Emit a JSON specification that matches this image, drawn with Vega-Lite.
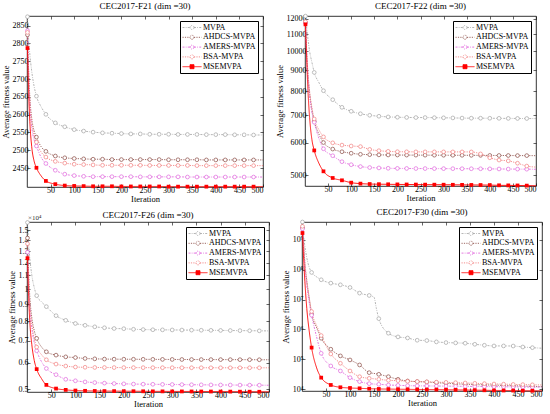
{
  "$schema": "https://vega.github.io/schema/vega-lite/v6.json",
  "padding": {"left": 0, "top": 1, "right": 6, "bottom": 0},
  "datasets": {
    "f21": [
      {"iteration": 1, "MVPA": 2875, "AHDCS-MVPA": 2824, "AMERS-MVPA": 2836, "BSA-MVPA": 2831, "MSEMVPA": 2787},
      {"iteration": 3, "MVPA": 2820, "AHDCS-MVPA": 2740, "AMERS-MVPA": 2730, "BSA-MVPA": 2735, "MSEMVPA": 2680},
      {"iteration": 6, "MVPA": 2770, "AHDCS-MVPA": 2650, "AMERS-MVPA": 2630, "BSA-MVPA": 2640, "MSEMVPA": 2580},
      {"iteration": 10, "MVPA": 2722, "AHDCS-MVPA": 2590, "AMERS-MVPA": 2565, "BSA-MVPA": 2578, "MSEMVPA": 2510},
      {"iteration": 15, "MVPA": 2680, "AHDCS-MVPA": 2555, "AMERS-MVPA": 2530, "BSA-MVPA": 2543, "MSEMVPA": 2470},
      {"iteration": 20, "MVPA": 2652, "AHDCS-MVPA": 2537, "AMERS-MVPA": 2512, "BSA-MVPA": 2523, "MSEMVPA": 2451},
      {"iteration": 30, "MVPA": 2622, "AHDCS-MVPA": 2510, "AMERS-MVPA": 2480, "BSA-MVPA": 2495, "MSEMVPA": 2428},
      {"iteration": 40, "MVPA": 2601, "AHDCS-MVPA": 2497, "AMERS-MVPA": 2463, "BSA-MVPA": 2481, "MSEMVPA": 2414},
      {"iteration": 60, "MVPA": 2577, "AHDCS-MVPA": 2484, "AMERS-MVPA": 2444, "BSA-MVPA": 2469, "MSEMVPA": 2405},
      {"iteration": 80, "MVPA": 2566, "AHDCS-MVPA": 2479, "AMERS-MVPA": 2433, "BSA-MVPA": 2464, "MSEMVPA": 2401},
      {"iteration": 100, "MVPA": 2558, "AHDCS-MVPA": 2477, "AMERS-MVPA": 2429, "BSA-MVPA": 2461, "MSEMVPA": 2400},
      {"iteration": 120, "MVPA": 2554, "AHDCS-MVPA": 2476, "AMERS-MVPA": 2427, "BSA-MVPA": 2460, "MSEMVPA": 2399.5},
      {"iteration": 140, "MVPA": 2551, "AHDCS-MVPA": 2475, "AMERS-MVPA": 2426, "BSA-MVPA": 2459, "MSEMVPA": 2399},
      {"iteration": 160, "MVPA": 2549, "AHDCS-MVPA": 2475, "AMERS-MVPA": 2426, "BSA-MVPA": 2458, "MSEMVPA": 2399},
      {"iteration": 180, "MVPA": 2548, "AHDCS-MVPA": 2474, "AMERS-MVPA": 2426, "BSA-MVPA": 2458, "MSEMVPA": 2399},
      {"iteration": 200, "MVPA": 2547, "AHDCS-MVPA": 2474, "AMERS-MVPA": 2426, "BSA-MVPA": 2458, "MSEMVPA": 2398.5},
      {"iteration": 220, "MVPA": 2546, "AHDCS-MVPA": 2474, "AMERS-MVPA": 2426, "BSA-MVPA": 2458, "MSEMVPA": 2398.5},
      {"iteration": 240, "MVPA": 2546, "AHDCS-MVPA": 2474, "AMERS-MVPA": 2425.5, "BSA-MVPA": 2458, "MSEMVPA": 2398.5},
      {"iteration": 260, "MVPA": 2545, "AHDCS-MVPA": 2474, "AMERS-MVPA": 2425.5, "BSA-MVPA": 2457.5, "MSEMVPA": 2398.5},
      {"iteration": 280, "MVPA": 2545, "AHDCS-MVPA": 2474, "AMERS-MVPA": 2425.5, "BSA-MVPA": 2457.5, "MSEMVPA": 2398.5},
      {"iteration": 300, "MVPA": 2545, "AHDCS-MVPA": 2473.5, "AMERS-MVPA": 2425.5, "BSA-MVPA": 2457.5, "MSEMVPA": 2398},
      {"iteration": 320, "MVPA": 2544.5, "AHDCS-MVPA": 2473.5, "AMERS-MVPA": 2425.5, "BSA-MVPA": 2457.5, "MSEMVPA": 2398},
      {"iteration": 340, "MVPA": 2544.5, "AHDCS-MVPA": 2473.5, "AMERS-MVPA": 2425, "BSA-MVPA": 2457.5, "MSEMVPA": 2398},
      {"iteration": 360, "MVPA": 2544.5, "AHDCS-MVPA": 2473.5, "AMERS-MVPA": 2425, "BSA-MVPA": 2457, "MSEMVPA": 2398},
      {"iteration": 380, "MVPA": 2544, "AHDCS-MVPA": 2473, "AMERS-MVPA": 2425, "BSA-MVPA": 2457, "MSEMVPA": 2398},
      {"iteration": 400, "MVPA": 2544, "AHDCS-MVPA": 2473, "AMERS-MVPA": 2425, "BSA-MVPA": 2457, "MSEMVPA": 2398},
      {"iteration": 420, "MVPA": 2544, "AHDCS-MVPA": 2473, "AMERS-MVPA": 2425, "BSA-MVPA": 2457, "MSEMVPA": 2398},
      {"iteration": 440, "MVPA": 2543.5, "AHDCS-MVPA": 2473, "AMERS-MVPA": 2425, "BSA-MVPA": 2457, "MSEMVPA": 2398},
      {"iteration": 460, "MVPA": 2543.5, "AHDCS-MVPA": 2473, "AMERS-MVPA": 2425, "BSA-MVPA": 2457, "MSEMVPA": 2398},
      {"iteration": 480, "MVPA": 2543, "AHDCS-MVPA": 2473, "AMERS-MVPA": 2425, "BSA-MVPA": 2457, "MSEMVPA": 2398},
      {"iteration": 500, "MVPA": 2543, "AHDCS-MVPA": 2473, "AMERS-MVPA": 2425, "BSA-MVPA": 2457, "MSEMVPA": 2398}
    ],
    "f22": [
      {"iteration": 1, "MVPA": 12170, "AHDCS-MVPA": 11750, "AMERS-MVPA": 11700, "BSA-MVPA": 11800, "MSEMVPA": 11625},
      {"iteration": 3, "MVPA": 11600, "AHDCS-MVPA": 10300, "AMERS-MVPA": 10200, "BSA-MVPA": 10400, "MSEMVPA": 10000},
      {"iteration": 6, "MVPA": 10800, "AHDCS-MVPA": 8900, "AMERS-MVPA": 8800, "BSA-MVPA": 9000, "MSEMVPA": 8200},
      {"iteration": 10, "MVPA": 10000, "AHDCS-MVPA": 7900, "AMERS-MVPA": 7800, "BSA-MVPA": 8000, "MSEMVPA": 6900},
      {"iteration": 15, "MVPA": 9400, "AHDCS-MVPA": 7200, "AMERS-MVPA": 7100, "BSA-MVPA": 7300, "MSEMVPA": 6100},
      {"iteration": 20, "MVPA": 8885, "AHDCS-MVPA": 6760, "AMERS-MVPA": 6726, "BSA-MVPA": 6850, "MSEMVPA": 5746},
      {"iteration": 30, "MVPA": 8400, "AHDCS-MVPA": 6300, "AMERS-MVPA": 6150, "BSA-MVPA": 6450, "MSEMVPA": 5350},
      {"iteration": 40, "MVPA": 8022, "AHDCS-MVPA": 6005, "AMERS-MVPA": 5799, "BSA-MVPA": 6198, "MSEMVPA": 5113},
      {"iteration": 60, "MVPA": 7630, "AHDCS-MVPA": 5790, "AMERS-MVPA": 5578, "BSA-MVPA": 5995, "MSEMVPA": 4926},
      {"iteration": 80, "MVPA": 7311, "AHDCS-MVPA": 5704, "AMERS-MVPA": 5395, "BSA-MVPA": 5920, "MSEMVPA": 4862},
      {"iteration": 100, "MVPA": 7151, "AHDCS-MVPA": 5656, "AMERS-MVPA": 5305, "BSA-MVPA": 5890, "MSEMVPA": 4799},
      {"iteration": 120, "MVPA": 7053, "AHDCS-MVPA": 5623, "AMERS-MVPA": 5250, "BSA-MVPA": 5870, "MSEMVPA": 4773},
      {"iteration": 140, "MVPA": 6993, "AHDCS-MVPA": 5612, "AMERS-MVPA": 5222, "BSA-MVPA": 5779, "MSEMVPA": 4762},
      {"iteration": 160, "MVPA": 6955, "AHDCS-MVPA": 5605, "AMERS-MVPA": 5210, "BSA-MVPA": 5737, "MSEMVPA": 4758},
      {"iteration": 180, "MVPA": 6930, "AHDCS-MVPA": 5602, "AMERS-MVPA": 5200, "BSA-MVPA": 5716, "MSEMVPA": 4755},
      {"iteration": 200, "MVPA": 6917, "AHDCS-MVPA": 5600, "AMERS-MVPA": 5197, "BSA-MVPA": 5705, "MSEMVPA": 4752},
      {"iteration": 220, "MVPA": 6910, "AHDCS-MVPA": 5598, "AMERS-MVPA": 5195, "BSA-MVPA": 5702, "MSEMVPA": 4750},
      {"iteration": 240, "MVPA": 6905, "AHDCS-MVPA": 5597, "AMERS-MVPA": 5193, "BSA-MVPA": 5700, "MSEMVPA": 4748},
      {"iteration": 260, "MVPA": 6905, "AHDCS-MVPA": 5596, "AMERS-MVPA": 5192, "BSA-MVPA": 5700, "MSEMVPA": 4746},
      {"iteration": 280, "MVPA": 6900, "AHDCS-MVPA": 5595, "AMERS-MVPA": 5191, "BSA-MVPA": 5700, "MSEMVPA": 4745},
      {"iteration": 300, "MVPA": 6895, "AHDCS-MVPA": 5594, "AMERS-MVPA": 5190, "BSA-MVPA": 5700, "MSEMVPA": 4744},
      {"iteration": 320, "MVPA": 6890, "AHDCS-MVPA": 5593, "AMERS-MVPA": 5189, "BSA-MVPA": 5699, "MSEMVPA": 4742},
      {"iteration": 340, "MVPA": 6885, "AHDCS-MVPA": 5592, "AMERS-MVPA": 5188, "BSA-MVPA": 5699, "MSEMVPA": 4740},
      {"iteration": 360, "MVPA": 6880, "AHDCS-MVPA": 5591, "AMERS-MVPA": 5187, "BSA-MVPA": 5698, "MSEMVPA": 4738},
      {"iteration": 380, "MVPA": 6880, "AHDCS-MVPA": 5590, "AMERS-MVPA": 5186, "BSA-MVPA": 5635, "MSEMVPA": 4736},
      {"iteration": 400, "MVPA": 6878, "AHDCS-MVPA": 5588, "AMERS-MVPA": 5183, "BSA-MVPA": 5515, "MSEMVPA": 4734},
      {"iteration": 420, "MVPA": 6875, "AHDCS-MVPA": 5586, "AMERS-MVPA": 5180, "BSA-MVPA": 5445, "MSEMVPA": 4728},
      {"iteration": 440, "MVPA": 6872, "AHDCS-MVPA": 5585, "AMERS-MVPA": 5178, "BSA-MVPA": 5420, "MSEMVPA": 4726},
      {"iteration": 460, "MVPA": 6870, "AHDCS-MVPA": 5583, "AMERS-MVPA": 5176, "BSA-MVPA": 5350, "MSEMVPA": 4724},
      {"iteration": 480, "MVPA": 6868, "AHDCS-MVPA": 5582, "AMERS-MVPA": 5174, "BSA-MVPA": 5265, "MSEMVPA": 4720},
      {"iteration": 500, "MVPA": 6865, "AHDCS-MVPA": 5580, "AMERS-MVPA": 5172, "BSA-MVPA": 5235, "MSEMVPA": 4715}
    ],
    "f26": [
      {"iteration": 1, "MVPA": 15850, "AHDCS-MVPA": 14230, "AMERS-MVPA": 12905, "BSA-MVPA": 13680, "MSEMVPA": 12380},
      {"iteration": 3, "MVPA": 14000, "AHDCS-MVPA": 11500, "AMERS-MVPA": 10500, "BSA-MVPA": 11000, "MSEMVPA": 9800},
      {"iteration": 6, "MVPA": 12300, "AHDCS-MVPA": 9400, "AMERS-MVPA": 8700, "BSA-MVPA": 9000, "MSEMVPA": 7900},
      {"iteration": 10, "MVPA": 11000, "AHDCS-MVPA": 8200, "AMERS-MVPA": 7600, "BSA-MVPA": 7900, "MSEMVPA": 6800},
      {"iteration": 15, "MVPA": 10100, "AHDCS-MVPA": 7500, "AMERS-MVPA": 6900, "BSA-MVPA": 7100, "MSEMVPA": 6100},
      {"iteration": 20, "MVPA": 9552, "AHDCS-MVPA": 7108, "AMERS-MVPA": 6523, "BSA-MVPA": 6692, "MSEMVPA": 5745},
      {"iteration": 30, "MVPA": 9150, "AHDCS-MVPA": 6700, "AMERS-MVPA": 6050, "BSA-MVPA": 6350, "MSEMVPA": 5380},
      {"iteration": 40, "MVPA": 8854, "AHDCS-MVPA": 6478, "AMERS-MVPA": 5771, "BSA-MVPA": 6130, "MSEMVPA": 5152},
      {"iteration": 60, "MVPA": 8317, "AHDCS-MVPA": 6330, "AMERS-MVPA": 5529, "BSA-MVPA": 5950, "MSEMVPA": 5023},
      {"iteration": 80, "MVPA": 8053, "AHDCS-MVPA": 6255, "AMERS-MVPA": 5356, "BSA-MVPA": 5870, "MSEMVPA": 4977},
      {"iteration": 100, "MVPA": 7880, "AHDCS-MVPA": 6225, "AMERS-MVPA": 5300, "BSA-MVPA": 5830, "MSEMVPA": 4955},
      {"iteration": 120, "MVPA": 7780, "AHDCS-MVPA": 6185, "AMERS-MVPA": 5260, "BSA-MVPA": 5820, "MSEMVPA": 4945},
      {"iteration": 140, "MVPA": 7700, "AHDCS-MVPA": 6170, "AMERS-MVPA": 5235, "BSA-MVPA": 5812, "MSEMVPA": 4940},
      {"iteration": 160, "MVPA": 7650, "AHDCS-MVPA": 6160, "AMERS-MVPA": 5215, "BSA-MVPA": 5810, "MSEMVPA": 4937},
      {"iteration": 180, "MVPA": 7610, "AHDCS-MVPA": 6156, "AMERS-MVPA": 5200, "BSA-MVPA": 5808, "MSEMVPA": 4935},
      {"iteration": 200, "MVPA": 7600, "AHDCS-MVPA": 6154, "AMERS-MVPA": 5190, "BSA-MVPA": 5807, "MSEMVPA": 4933},
      {"iteration": 220, "MVPA": 7570, "AHDCS-MVPA": 6152, "AMERS-MVPA": 5182, "BSA-MVPA": 5806, "MSEMVPA": 4931},
      {"iteration": 240, "MVPA": 7555, "AHDCS-MVPA": 6150, "AMERS-MVPA": 5178, "BSA-MVPA": 5805, "MSEMVPA": 4929},
      {"iteration": 260, "MVPA": 7545, "AHDCS-MVPA": 6148, "AMERS-MVPA": 5174, "BSA-MVPA": 5804, "MSEMVPA": 4927},
      {"iteration": 280, "MVPA": 7540, "AHDCS-MVPA": 6146, "AMERS-MVPA": 5170, "BSA-MVPA": 5803, "MSEMVPA": 4926},
      {"iteration": 300, "MVPA": 7535, "AHDCS-MVPA": 6144, "AMERS-MVPA": 5166, "BSA-MVPA": 5802, "MSEMVPA": 4925},
      {"iteration": 320, "MVPA": 7530, "AHDCS-MVPA": 6142, "AMERS-MVPA": 5162, "BSA-MVPA": 5802, "MSEMVPA": 4924},
      {"iteration": 340, "MVPA": 7525, "AHDCS-MVPA": 6140, "AMERS-MVPA": 5158, "BSA-MVPA": 5801, "MSEMVPA": 4923},
      {"iteration": 360, "MVPA": 7520, "AHDCS-MVPA": 6139, "AMERS-MVPA": 5155, "BSA-MVPA": 5801, "MSEMVPA": 4922},
      {"iteration": 380, "MVPA": 7515, "AHDCS-MVPA": 6138, "AMERS-MVPA": 5152, "BSA-MVPA": 5800, "MSEMVPA": 4921},
      {"iteration": 400, "MVPA": 7510, "AHDCS-MVPA": 6137, "AMERS-MVPA": 5150, "BSA-MVPA": 5800, "MSEMVPA": 4920},
      {"iteration": 420, "MVPA": 7505, "AHDCS-MVPA": 6136, "AMERS-MVPA": 5148, "BSA-MVPA": 5800, "MSEMVPA": 4918},
      {"iteration": 440, "MVPA": 7500, "AHDCS-MVPA": 6135, "AMERS-MVPA": 5146, "BSA-MVPA": 5800, "MSEMVPA": 4916},
      {"iteration": 460, "MVPA": 7495, "AHDCS-MVPA": 6133, "AMERS-MVPA": 5144, "BSA-MVPA": 5799, "MSEMVPA": 4915},
      {"iteration": 480, "MVPA": 7490, "AHDCS-MVPA": 6131, "AMERS-MVPA": 5142, "BSA-MVPA": 5799, "MSEMVPA": 4913},
      {"iteration": 500, "MVPA": 7485, "AHDCS-MVPA": 6130, "AMERS-MVPA": 5140, "BSA-MVPA": 5798, "MSEMVPA": 4912}
    ],
    "f30": [
      {"iteration": 1, "MVPA": 3.9e9, "AHDCS-MVPA": 2.5e9, "AMERS-MVPA": 2.3e9, "BSA-MVPA": 2.8e9, "MSEMVPA": 1.67e9},
      {"iteration": 3, "MVPA": 1.5e9, "AHDCS-MVPA": 8e8, "AMERS-MVPA": 7e8, "BSA-MVPA": 9e8, "MSEMVPA": 3e8},
      {"iteration": 6, "MVPA": 6e8, "AHDCS-MVPA": 1.5e8, "AMERS-MVPA": 1.2e8, "BSA-MVPA": 1.8e8, "MSEMVPA": 4e7},
      {"iteration": 10, "MVPA": 2.5e8, "AHDCS-MVPA": 4e7, "AMERS-MVPA": 3e7, "BSA-MVPA": 4.5e7, "MSEMVPA": 5e6},
      {"iteration": 15, "MVPA": 1.2e8, "AHDCS-MVPA": 1.1e7, "AMERS-MVPA": 8e6, "BSA-MVPA": 1.2e7, "MSEMVPA": 9e5},
      {"iteration": 20, "MVPA": 8.05e7, "AHDCS-MVPA": 3.24e6, "AMERS-MVPA": 3.0e6, "BSA-MVPA": 3.99e6, "MSEMVPA": 2.48e5},
      {"iteration": 30, "MVPA": 5.8e7, "AHDCS-MVPA": 1.2e6, "AMERS-MVPA": 6e5, "BSA-MVPA": 1.4e6, "MSEMVPA": 5.5e4},
      {"iteration": 40, "MVPA": 4.58e7, "AHDCS-MVPA": 5.1e5, "AMERS-MVPA": 1.6e5, "BSA-MVPA": 6.27e5, "MSEMVPA": 2.46e4},
      {"iteration": 60, "MVPA": 3.54e7, "AHDCS-MVPA": 2.19e5, "AMERS-MVPA": 6.04e4, "BSA-MVPA": 1.52e5, "MSEMVPA": 1.4e4},
      {"iteration": 80, "MVPA": 3.11e7, "AHDCS-MVPA": 1.31e5, "AMERS-MVPA": 4.11e4, "BSA-MVPA": 7.43e4, "MSEMVPA": 1.17e4},
      {"iteration": 100, "MVPA": 2.53e7, "AHDCS-MVPA": 9.6e4, "AMERS-MVPA": 2.46e4, "BSA-MVPA": 4.11e4, "MSEMVPA": 1.11e4},
      {"iteration": 120, "MVPA": 1.64e7, "AHDCS-MVPA": 6.53e4, "AMERS-MVPA": 1.81e4, "BSA-MVPA": 2.65e4, "MSEMVPA": 1.08e4},
      {"iteration": 140, "MVPA": 1.37e7, "AHDCS-MVPA": 3.61e4, "AMERS-MVPA": 1.55e4, "BSA-MVPA": 2.33e4, "MSEMVPA": 1.05e4},
      {"iteration": 150, "MVPA": 1.2e7, "AHDCS-MVPA": 3.4e4, "AMERS-MVPA": 1.5e4, "BSA-MVPA": 2.25e4, "MSEMVPA": 1.04e4},
      {"iteration": 155, "MVPA": 5e6, "AHDCS-MVPA": 3.3e4, "AMERS-MVPA": 1.48e4, "BSA-MVPA": 2.2e4, "MSEMVPA": 1.04e4},
      {"iteration": 160, "MVPA": 2.3e6, "AHDCS-MVPA": 3.18e4, "AMERS-MVPA": 1.47e4, "BSA-MVPA": 2.16e4, "MSEMVPA": 1.03e4},
      {"iteration": 180, "MVPA": 7.5e5, "AHDCS-MVPA": 2.65e4, "AMERS-MVPA": 1.4e4, "BSA-MVPA": 2.0e4, "MSEMVPA": 1.02e4},
      {"iteration": 200, "MVPA": 5.65e5, "AHDCS-MVPA": 2.16e4, "AMERS-MVPA": 1.36e4, "BSA-MVPA": 1.95e4, "MSEMVPA": 1.01e4},
      {"iteration": 220, "MVPA": 5.2e5, "AHDCS-MVPA": 1.9e4, "AMERS-MVPA": 1.33e4, "BSA-MVPA": 1.86e4, "MSEMVPA": 1.0e4},
      {"iteration": 240, "MVPA": 4.37e5, "AHDCS-MVPA": 1.81e4, "AMERS-MVPA": 1.31e4, "BSA-MVPA": 1.82e4, "MSEMVPA": 9900},
      {"iteration": 260, "MVPA": 4.27e5, "AHDCS-MVPA": 1.76e4, "AMERS-MVPA": 1.3e4, "BSA-MVPA": 1.78e4, "MSEMVPA": 9850},
      {"iteration": 280, "MVPA": 3.85e5, "AHDCS-MVPA": 1.67e4, "AMERS-MVPA": 1.29e4, "BSA-MVPA": 1.74e4, "MSEMVPA": 9800},
      {"iteration": 300, "MVPA": 3.65e5, "AHDCS-MVPA": 1.59e4, "AMERS-MVPA": 1.28e4, "BSA-MVPA": 1.71e4, "MSEMVPA": 9700},
      {"iteration": 320, "MVPA": 3.56e5, "AHDCS-MVPA": 1.53e4, "AMERS-MVPA": 1.27e4, "BSA-MVPA": 1.67e4, "MSEMVPA": 9600},
      {"iteration": 340, "MVPA": 3.47e5, "AHDCS-MVPA": 1.48e4, "AMERS-MVPA": 1.26e4, "BSA-MVPA": 1.63e4, "MSEMVPA": 9500},
      {"iteration": 360, "MVPA": 3.2e5, "AHDCS-MVPA": 1.44e4, "AMERS-MVPA": 1.25e4, "BSA-MVPA": 1.59e4, "MSEMVPA": 9400},
      {"iteration": 380, "MVPA": 2.97e5, "AHDCS-MVPA": 1.41e4, "AMERS-MVPA": 1.24e4, "BSA-MVPA": 1.55e4, "MSEMVPA": 9300},
      {"iteration": 400, "MVPA": 2.82e5, "AHDCS-MVPA": 1.38e4, "AMERS-MVPA": 1.23e4, "BSA-MVPA": 1.51e4, "MSEMVPA": 9200},
      {"iteration": 420, "MVPA": 2.82e5, "AHDCS-MVPA": 1.35e4, "AMERS-MVPA": 1.22e4, "BSA-MVPA": 1.49e4, "MSEMVPA": 9150},
      {"iteration": 440, "MVPA": 2.8e5, "AHDCS-MVPA": 1.32e4, "AMERS-MVPA": 1.21e4, "BSA-MVPA": 1.46e4, "MSEMVPA": 9100},
      {"iteration": 460, "MVPA": 2.6e5, "AHDCS-MVPA": 1.29e4, "AMERS-MVPA": 1.2e4, "BSA-MVPA": 1.44e4, "MSEMVPA": 9000},
      {"iteration": 480, "MVPA": 2.47e5, "AHDCS-MVPA": 1.26e4, "AMERS-MVPA": 1.19e4, "BSA-MVPA": 1.42e4, "MSEMVPA": 8950},
      {"iteration": 500, "MVPA": 2.36e5, "AHDCS-MVPA": 1.23e4, "AMERS-MVPA": 1.18e4, "BSA-MVPA": 1.4e4, "MSEMVPA": 8900}
    ],
    "exponent": [
      {"iteration": 2, "fitness": 16050, "label": "×10⁴"}
    ]
  },
  "resolve": {"scale": {"color": "independent", "strokeDash": "independent", "strokeWidth": "independent"}, "legend": {"color": "independent"}},
  "vconcat": [
    {
      "resolve": {"scale": {"color": "independent", "strokeDash": "independent", "strokeWidth": "independent"}, "legend": {"color": "independent"}},
      "hconcat": [
        {
          "width": 236,
          "height": 171,
          "title": "CEC2017-F21 (dim =30)",
          "data": {"name": "f21"},
          "transform": [
            {"fold": ["MVPA", "AHDCS-MVPA", "AMERS-MVPA", "BSA-MVPA", "MSEMVPA"], "as": ["algorithm", "fitness"]}
          ],
          "resolve": {"axis": {"x": "independent", "y": "independent"}},
          "layer": [
            {
              "mark": {"type": "line", "interpolate": "monotone"},
              "encoding": {
                "x": {"field": "iteration", "type": "quantitative", "scale": {"domain": [0, 500], "nice": false}, "axis": {"values": [50, 100, 150, 200, 250, 300, 350, 400, 450, 500], "title": "Iteration", "titlePadding": 0}},
                "y": {"field": "fitness", "type": "quantitative", "scale": {"domain": [2397, 2877], "nice": false, "zero": false}, "axis": {"values": [2450, 2500, 2550, 2600, 2650, 2700, 2750, 2800, 2850], "format": "d", "title": "Average fitness value"}},
                "color": {"field": "algorithm", "type": "nominal", "scale": {"domain": ["MVPA", "AHDCS-MVPA", "AMERS-MVPA", "BSA-MVPA", "MSEMVPA"], "range": ["#a3a3a3", "#8a4a44", "#e066dc", "#f27f7f", "#ff0000"]},
                  "legend": {"orient": "top-right", "offset": 5, "title": null, "strokeColor": "black", "fillColor": "white", "padding": 2, "rowPadding": 0.8, "labelFontSize": 8, "labelOffset": 12, "symbolSize": 64, "symbolStrokeWidth": 0.8,
                    "encode": {"symbols": {"update": {
                      "shape": {"signal": "datum.label == 'MSEMVPA' ? 'M-1,0H3.75M0.875,-0.5H1.875V0.5H0.875Z' : 'M-1,0H0.875M1.875,0H3.75M1.875,0A0.5,0.5,0,1,1,0.875,0A0.5,0.5,0,1,1,1.875,0'"},
                      "fill": {"signal": "datum.label == 'MSEMVPA' ? '#ff0000' : 'white'"},
                      "strokeDash": {"signal": "datum.label == 'MSEMVPA' ? [] : [1.5, 1.2]"},
                      "strokeWidth": {"signal": "datum.label == 'MSEMVPA' ? 1.4 : 0.8"}
                    }}}}},
                "strokeDash": {"field": "algorithm", "type": "nominal", "scale": {"domain": ["MVPA", "AHDCS-MVPA", "AMERS-MVPA", "BSA-MVPA", "MSEMVPA"], "range": [[2, 1.2, 0.8, 1.2], [1.2, 1.2], [2, 1.2, 0.8, 1.2], [1.2, 1.2], [1, 0]]}, "legend": null},
                "strokeWidth": {"field": "algorithm", "type": "nominal", "scale": {"domain": ["MVPA", "AHDCS-MVPA", "AMERS-MVPA", "BSA-MVPA", "MSEMVPA"], "range": [0.8, 0.9, 0.8, 0.8, 1.5]}, "legend": null}
              }
            },
            {
              "transform": [{"filter": "datum.algorithm != 'MSEMVPA' && (datum.iteration == 1 || (datum.iteration % 20 == 0 && datum.iteration <= 480))"}],
              "mark": {"type": "point", "shape": "circle", "fill": "white", "size": 14, "strokeWidth": 0.7, "opacity": 1},
              "encoding": {
                "x": {"field": "iteration", "type": "quantitative", "axis": {"orient": "top", "values": [50, 100, 150, 200, 250, 300, 350, 400, 450, 500], "labels": false, "title": null}},
                "y": {"field": "fitness", "type": "quantitative", "axis": {"orient": "right", "values": [2450, 2500, 2550, 2600, 2650, 2700, 2750, 2800, 2850], "labels": false, "title": null}},
                "stroke": {"field": "algorithm", "type": "nominal", "legend": null, "scale": {"domain": ["MVPA", "AHDCS-MVPA", "AMERS-MVPA", "BSA-MVPA", "MSEMVPA"], "range": ["#a3a3a3", "#8a4a44", "#e066dc", "#f27f7f", "#ff0000"]}}
              }
            },
            {
              "transform": [{"filter": "datum.algorithm == 'MSEMVPA' && (datum.iteration == 1 || (datum.iteration % 20 == 0 && datum.iteration <= 480))"}],
              "mark": {"type": "square", "color": "#ff0000", "size": 14, "opacity": 1},
              "encoding": {
                "x": {"field": "iteration", "type": "quantitative", "axis": null},
                "y": {"field": "fitness", "type": "quantitative", "axis": null}
              }
            }
          ]
        },
        {
          "width": 231,
          "height": 170,
          "title": "CEC2017-F22 (dim =30)",
          "data": {"name": "f22"},
          "transform": [
            {"fold": ["MVPA", "AHDCS-MVPA", "AMERS-MVPA", "BSA-MVPA", "MSEMVPA"], "as": ["algorithm", "fitness"]}
          ],
          "resolve": {"axis": {"x": "independent", "y": "independent"}},
          "layer": [
            {
              "mark": {"type": "line", "interpolate": "monotone"},
              "encoding": {
                "x": {"field": "iteration", "type": "quantitative", "scale": {"domain": [0, 500], "nice": false}, "axis": {"values": [50, 100, 150, 200, 250, 300, 350, 400, 450, 500], "title": "Iteration", "titlePadding": 0}},
                "y": {"field": "fitness", "type": "quantitative", "scale": {"type": "log", "domain": [4710, 12180], "nice": false}, "axis": {"values": [5000, 6000, 7000, 8000, 9000, 10000, 11000, 12000], "format": "d", "title": "Average fitness value"}},
                "color": {"field": "algorithm", "type": "nominal", "scale": {"domain": ["MVPA", "AHDCS-MVPA", "AMERS-MVPA", "BSA-MVPA", "MSEMVPA"], "range": ["#a3a3a3", "#8a4a44", "#e066dc", "#f27f7f", "#ff0000"]},
                  "legend": {"orient": "top-right", "offset": 5, "title": null, "strokeColor": "black", "fillColor": "white", "padding": 2, "rowPadding": 0.8, "labelFontSize": 8, "labelOffset": 12, "symbolSize": 64, "symbolStrokeWidth": 0.8,
                    "encode": {"symbols": {"update": {
                      "shape": {"signal": "datum.label == 'MSEMVPA' ? 'M-1,0H3.75M0.875,-0.5H1.875V0.5H0.875Z' : 'M-1,0H0.875M1.875,0H3.75M1.875,0A0.5,0.5,0,1,1,0.875,0A0.5,0.5,0,1,1,1.875,0'"},
                      "fill": {"signal": "datum.label == 'MSEMVPA' ? '#ff0000' : 'white'"},
                      "strokeDash": {"signal": "datum.label == 'MSEMVPA' ? [] : [1.5, 1.2]"},
                      "strokeWidth": {"signal": "datum.label == 'MSEMVPA' ? 1.4 : 0.8"}
                    }}}}},
                "strokeDash": {"field": "algorithm", "type": "nominal", "scale": {"domain": ["MVPA", "AHDCS-MVPA", "AMERS-MVPA", "BSA-MVPA", "MSEMVPA"], "range": [[2, 1.2, 0.8, 1.2], [1.2, 1.2], [2, 1.2, 0.8, 1.2], [1.2, 1.2], [1, 0]]}, "legend": null},
                "strokeWidth": {"field": "algorithm", "type": "nominal", "scale": {"domain": ["MVPA", "AHDCS-MVPA", "AMERS-MVPA", "BSA-MVPA", "MSEMVPA"], "range": [0.8, 0.9, 0.8, 0.8, 1.5]}, "legend": null}
              }
            },
            {
              "transform": [{"filter": "datum.algorithm != 'MSEMVPA' && (datum.iteration == 1 || (datum.iteration % 20 == 0 && datum.iteration <= 480))"}],
              "mark": {"type": "point", "shape": "circle", "fill": "white", "size": 14, "strokeWidth": 0.7, "opacity": 1},
              "encoding": {
                "x": {"field": "iteration", "type": "quantitative", "axis": {"orient": "top", "values": [50, 100, 150, 200, 250, 300, 350, 400, 450, 500], "labels": false, "title": null}},
                "y": {"field": "fitness", "type": "quantitative", "axis": {"orient": "right", "values": [5000, 6000, 7000, 8000, 9000, 10000, 11000, 12000], "labels": false, "title": null}},
                "stroke": {"field": "algorithm", "type": "nominal", "legend": null, "scale": {"domain": ["MVPA", "AHDCS-MVPA", "AMERS-MVPA", "BSA-MVPA", "MSEMVPA"], "range": ["#a3a3a3", "#8a4a44", "#e066dc", "#f27f7f", "#ff0000"]}}
              }
            },
            {
              "transform": [{"filter": "datum.algorithm == 'MSEMVPA' && (datum.iteration == 1 || (datum.iteration % 20 == 0 && datum.iteration <= 480))"}],
              "mark": {"type": "square", "color": "#ff0000", "size": 14, "opacity": 1},
              "encoding": {
                "x": {"field": "iteration", "type": "quantitative", "axis": null},
                "y": {"field": "fitness", "type": "quantitative", "axis": null}
              }
            }
          ]
        }
      ]
    },
    {
      "resolve": {"scale": {"color": "independent", "strokeDash": "independent", "strokeWidth": "independent"}, "legend": {"color": "independent"}},
      "hconcat": [
        {
          "width": 242,
          "height": 170,
          "title": {"text": "CEC2017-F26 (dim =30)", "offset": -6},
          "data": {"name": "f26"},
          "transform": [
            {"fold": ["MVPA", "AHDCS-MVPA", "AMERS-MVPA", "BSA-MVPA", "MSEMVPA"], "as": ["algorithm", "fitness"]}
          ],
          "resolve": {"axis": {"x": "independent", "y": "independent"}},
          "layer": [
            {
              "mark": {"type": "line", "interpolate": "monotone"},
              "encoding": {
                "x": {"field": "iteration", "type": "quantitative", "scale": {"domain": [0, 500], "nice": false}, "axis": {"values": [50, 100, 150, 200, 250, 300, 350, 400, 450, 500], "title": "Iteration", "titlePadding": 0}},
                "y": {"field": "fitness", "type": "quantitative", "scale": {"type": "log", "domain": [4905, 15900], "nice": false}, "axis": {"values": [5000, 6000, 7000, 8000, 9000, 10000, 11000, 12000, 13000, 14000, 15000], "labelExpr": "'' + (datum.value / 10000)", "title": "Average fitness value"}},
                "color": {"field": "algorithm", "type": "nominal", "scale": {"domain": ["MVPA", "AHDCS-MVPA", "AMERS-MVPA", "BSA-MVPA", "MSEMVPA"], "range": ["#a3a3a3", "#8a4a44", "#e066dc", "#f27f7f", "#ff0000"]},
                  "legend": {"orient": "top-right", "offset": 5, "title": null, "strokeColor": "black", "fillColor": "white", "padding": 2, "rowPadding": 0.8, "labelFontSize": 8, "labelOffset": 12, "symbolSize": 64, "symbolStrokeWidth": 0.8,
                    "encode": {"symbols": {"update": {
                      "shape": {"signal": "datum.label == 'MSEMVPA' ? 'M-1,0H3.75M0.875,-0.5H1.875V0.5H0.875Z' : 'M-1,0H0.875M1.875,0H3.75M1.875,0A0.5,0.5,0,1,1,0.875,0A0.5,0.5,0,1,1,1.875,0'"},
                      "fill": {"signal": "datum.label == 'MSEMVPA' ? '#ff0000' : 'white'"},
                      "strokeDash": {"signal": "datum.label == 'MSEMVPA' ? [] : [1.5, 1.2]"},
                      "strokeWidth": {"signal": "datum.label == 'MSEMVPA' ? 1.4 : 0.8"}
                    }}}}},
                "strokeDash": {"field": "algorithm", "type": "nominal", "scale": {"domain": ["MVPA", "AHDCS-MVPA", "AMERS-MVPA", "BSA-MVPA", "MSEMVPA"], "range": [[2, 1.2, 0.8, 1.2], [1.2, 1.2], [2, 1.2, 0.8, 1.2], [1.2, 1.2], [1, 0]]}, "legend": null},
                "strokeWidth": {"field": "algorithm", "type": "nominal", "scale": {"domain": ["MVPA", "AHDCS-MVPA", "AMERS-MVPA", "BSA-MVPA", "MSEMVPA"], "range": [0.8, 0.9, 0.8, 0.8, 1.5]}, "legend": null}
              }
            },
            {
              "transform": [{"filter": "datum.algorithm != 'MSEMVPA' && (datum.iteration == 1 || (datum.iteration % 20 == 0 && datum.iteration <= 480))"}],
              "mark": {"type": "point", "shape": "circle", "fill": "white", "size": 14, "strokeWidth": 0.7, "opacity": 1},
              "encoding": {
                "x": {"field": "iteration", "type": "quantitative", "axis": {"orient": "top", "values": [50, 100, 150, 200, 250, 300, 350, 400, 450, 500], "labels": false, "title": null}},
                "y": {"field": "fitness", "type": "quantitative", "axis": {"orient": "right", "values": [5000, 6000, 7000, 8000, 9000, 10000, 11000, 12000, 13000, 14000, 15000], "labels": false, "title": null}},
                "stroke": {"field": "algorithm", "type": "nominal", "legend": null, "scale": {"domain": ["MVPA", "AHDCS-MVPA", "AMERS-MVPA", "BSA-MVPA", "MSEMVPA"], "range": ["#a3a3a3", "#8a4a44", "#e066dc", "#f27f7f", "#ff0000"]}}
              }
            },
            {
              "transform": [{"filter": "datum.algorithm == 'MSEMVPA' && (datum.iteration == 1 || (datum.iteration % 20 == 0 && datum.iteration <= 480))"}],
              "mark": {"type": "square", "color": "#ff0000", "size": 14, "opacity": 1},
              "encoding": {
                "x": {"field": "iteration", "type": "quantitative", "axis": null},
                "y": {"field": "fitness", "type": "quantitative", "axis": null}
              }
            },
            {
              "data": {"name": "exponent"},
              "mark": {"type": "text", "align": "left", "baseline": "bottom", "fontSize": 7, "color": "#333333"},
              "encoding": {
                "x": {"field": "iteration", "type": "quantitative", "axis": null},
                "y": {"field": "fitness", "type": "quantitative", "axis": null},
                "text": {"field": "label"}
              }
            }
          ]
        },
        {
          "width": 240,
          "height": 169,
          "title": "CEC2017-F30 (dim =30)",
          "data": {"name": "f30"},
          "transform": [
            {"fold": ["MVPA", "AHDCS-MVPA", "AMERS-MVPA", "BSA-MVPA", "MSEMVPA"], "as": ["algorithm", "fitness"]}
          ],
          "resolve": {"axis": {"x": "independent", "y": "independent"}},
          "layer": [
            {
              "mark": {"type": "line", "interpolate": "monotone"},
              "encoding": {
                "x": {"field": "iteration", "type": "quantitative", "scale": {"domain": [0, 500], "nice": false}, "axis": {"values": [50, 100, 150, 200, 250, 300, 350, 400, 450, 500], "title": "Iteration", "titlePadding": 0}},
                "y": {"field": "fitness", "type": "quantitative", "scale": {"type": "log", "domain": [8800, 3.9e9], "nice": false}, "axis": {"values": [10000, 100000, 1000000, 10000000, 100000000, 1000000000], "labelExpr": "'10' + ['⁴', '⁵', '⁶', '⁷', '⁸', '⁹'][round(log(datum.value) / LN10) - 4]", "title": "Average fitness value"}},
                "color": {"field": "algorithm", "type": "nominal", "scale": {"domain": ["MVPA", "AHDCS-MVPA", "AMERS-MVPA", "BSA-MVPA", "MSEMVPA"], "range": ["#a3a3a3", "#8a4a44", "#e066dc", "#f27f7f", "#ff0000"]},
                  "legend": {"orient": "top-right", "offset": 5, "title": null, "strokeColor": "black", "fillColor": "white", "padding": 2, "rowPadding": 0.8, "labelFontSize": 8, "labelOffset": 12, "symbolSize": 64, "symbolStrokeWidth": 0.8,
                    "encode": {"symbols": {"update": {
                      "shape": {"signal": "datum.label == 'MSEMVPA' ? 'M-1,0H3.75M0.875,-0.5H1.875V0.5H0.875Z' : 'M-1,0H0.875M1.875,0H3.75M1.875,0A0.5,0.5,0,1,1,0.875,0A0.5,0.5,0,1,1,1.875,0'"},
                      "fill": {"signal": "datum.label == 'MSEMVPA' ? '#ff0000' : 'white'"},
                      "strokeDash": {"signal": "datum.label == 'MSEMVPA' ? [] : [1.5, 1.2]"},
                      "strokeWidth": {"signal": "datum.label == 'MSEMVPA' ? 1.4 : 0.8"}
                    }}}}},
                "strokeDash": {"field": "algorithm", "type": "nominal", "scale": {"domain": ["MVPA", "AHDCS-MVPA", "AMERS-MVPA", "BSA-MVPA", "MSEMVPA"], "range": [[2, 1.2, 0.8, 1.2], [1.2, 1.2], [2, 1.2, 0.8, 1.2], [1.2, 1.2], [1, 0]]}, "legend": null},
                "strokeWidth": {"field": "algorithm", "type": "nominal", "scale": {"domain": ["MVPA", "AHDCS-MVPA", "AMERS-MVPA", "BSA-MVPA", "MSEMVPA"], "range": [0.8, 0.9, 0.8, 0.8, 1.5]}, "legend": null}
              }
            },
            {
              "transform": [{"filter": "datum.algorithm != 'MSEMVPA' && (datum.iteration == 1 || (datum.iteration % 20 == 0 && datum.iteration <= 480))"}],
              "mark": {"type": "point", "shape": "circle", "fill": "white", "size": 14, "strokeWidth": 0.7, "opacity": 1},
              "encoding": {
                "x": {"field": "iteration", "type": "quantitative", "axis": {"orient": "top", "values": [50, 100, 150, 200, 250, 300, 350, 400, 450, 500], "labels": false, "title": null}},
                "y": {"field": "fitness", "type": "quantitative", "axis": {"orient": "right", "values": [10000, 100000, 1000000, 10000000, 100000000, 1000000000], "labels": false, "title": null}},
                "stroke": {"field": "algorithm", "type": "nominal", "legend": null, "scale": {"domain": ["MVPA", "AHDCS-MVPA", "AMERS-MVPA", "BSA-MVPA", "MSEMVPA"], "range": ["#a3a3a3", "#8a4a44", "#e066dc", "#f27f7f", "#ff0000"]}}
              }
            },
            {
              "transform": [{"filter": "datum.algorithm == 'MSEMVPA' && (datum.iteration == 1 || (datum.iteration % 20 == 0 && datum.iteration <= 480))"}],
              "mark": {"type": "square", "color": "#ff0000", "size": 14, "opacity": 1},
              "encoding": {
                "x": {"field": "iteration", "type": "quantitative", "axis": null},
                "y": {"field": "fitness", "type": "quantitative", "axis": null}
              }
            }
          ]
        }
      ]
    }
  ],
  "spacing": 4,
  "config": {
    "font": "Liberation Serif",
    "background": "white",
    "concat": {"spacing": 8},
    "view": {"stroke": "black", "strokeWidth": 0.8},
    "title": {"fontSize": 9, "fontWeight": "normal", "color": "black", "offset": 2},
    "axis": {"domain": false, "grid": false, "tickSize": -3, "tickColor": "black", "tickWidth": 0.6, "labelFontSize": 8, "labelColor": "black", "labelPadding": 2, "titleFontSize": 8.5, "titleFontWeight": "normal", "titleColor": "black", "titlePadding": 2},
    "legend": {"labelFont": "Liberation Serif", "labelColor": "black"}
  }
}
